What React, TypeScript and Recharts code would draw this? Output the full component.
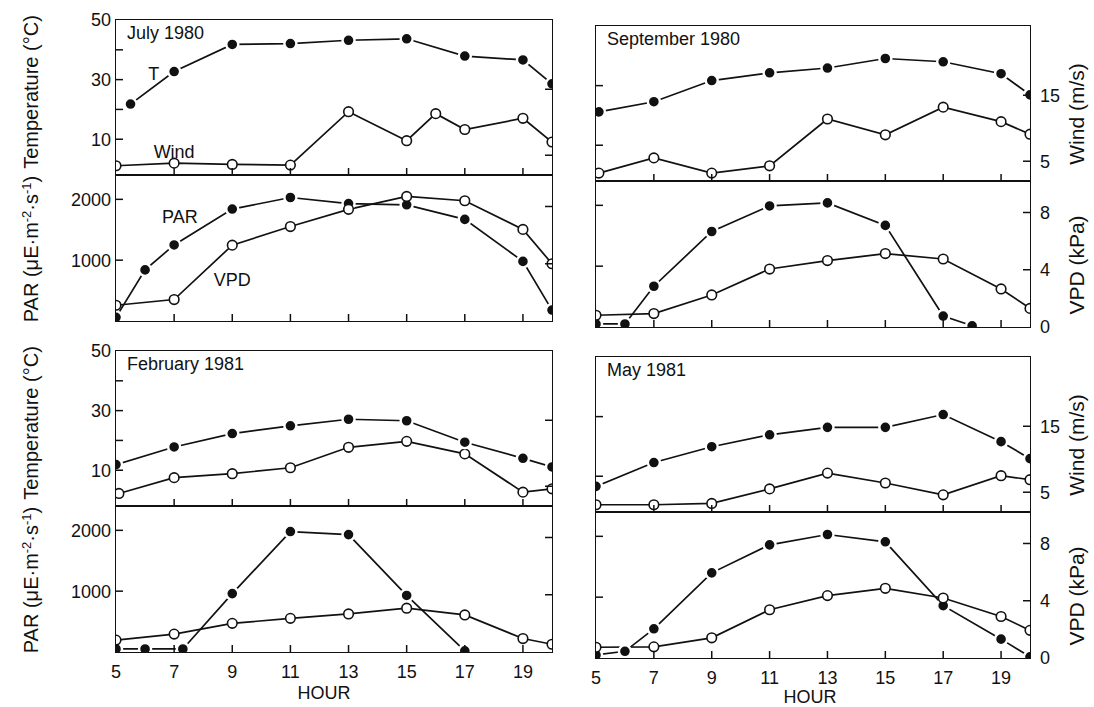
import React from 'react';
import { LineChart, Line, XAxis, YAxis, ReferenceDot } from 'recharts';

// ---------------- axis definitions ----------------
const HOUR_TICKS = [5, 7, 9, 11, 13, 15, 17, 19];
const HOUR_MARKS = [7, 9, 11, 13, 15, 17, 19];
const TEMP_TICKS = [10, 20, 30, 40, 50];
const TEMP_LABELS = [10, 30, 50];
const TEMP_MARKS_LEFT = [10, 20, 30, 40];
const TEMP_MARKS_RIGHT = [10, 30];
const WIND_TICKS = [5, 15];
const PAR_TICKS = [1000, 2000];
const VPD_TICKS = [0, 4, 8];
const VPD_MARKS = [4, 8];

const HOUR_DOMAIN = [5, 20];
const TEMP_DOMAIN = [-2, 50];
const WIND_DOMAIN = [2, 25.5];
const PAR_DOMAIN = [0, 2400];
const VPD_DOMAIN = [0, 10.2];

// ---------------- July 1980 ----------------
const JUL_T_H = [5.5, 7, 9, 11, 13, 15, 17, 19, 20];
const JUL_T = [21.8, 32.7, 41.8, 42.1, 43.2, 43.7, 37.9, 36.6, 28.6];
const JUL_W_H = [5, 7, 9, 11, 13, 15, 16, 17, 19, 20];
const JUL_W = [3.4, 3.8, 3.6, 3.5, 11.6, 7.2, 11.3, 8.9, 10.6, 7.0];
const JUL_PAR_H = [5, 6, 7, 9, 11, 13, 15, 17, 19, 20];
const JUL_PAR = [60, 840, 1250, 1840, 2030, 1930, 1910, 1670, 980, 180];
const JUL_VPD_H = [5, 7, 9, 11, 13, 15, 17, 19, 20];
const JUL_VPD = [1.1, 1.5, 5.3, 6.6, 7.8, 8.7, 8.4, 6.4, 4.0];

// ---------------- September 1980 ----------------
const SEP_T_H = [5.1, 7, 9, 11, 13, 15, 17, 19, 20];
const SEP_T = [21.2, 24.6, 31.7, 34.3, 35.9, 39.1, 38.0, 34.0, 26.9];
const SEP_W_H = [5.1, 7, 9, 11, 13, 15, 17, 19, 20];
const SEP_W = [3.2, 5.5, 3.2, 4.3, 11.4, 9.0, 13.2, 11.0, 9.1];
const SEP_PAR_H = [5, 6, 7, 9, 11, 13, 15, 17, 18];
const SEP_PAR = [50, 50, 670, 1570, 1990, 2040, 1670, 180, 20];
const SEP_VPD_H = [5, 7, 9, 11, 13, 15, 17, 19, 20];
const SEP_VPD = [0.82, 0.94, 2.24, 4.05, 4.64, 5.13, 4.75, 2.66, 1.3];

// ---------------- February 1981 ----------------
const FEB_T_H = [5, 7, 9, 11, 13, 15, 17, 19, 20];
const FEB_T = [11.9, 17.8, 22.3, 24.9, 27.1, 26.6, 19.4, 14.0, 11.1];
const FEB_W_H = [5.1, 7, 9, 11, 13, 15, 17, 19, 20];
const FEB_W = [3.9, 6.3, 6.9, 7.8, 10.9, 11.8, 9.9, 4.1, 4.6];
const FEB_PAR_H = [5, 6, 7.3, 9, 11, 13, 15, 17];
const FEB_PAR = [50, 50, 50, 960, 1980, 1930, 930, 20];
const FEB_VPD_H = [5, 7, 9, 11, 13, 15, 17, 19, 20];
const FEB_VPD = [0.83, 1.25, 2.0, 2.35, 2.66, 3.06, 2.59, 0.94, 0.54];

// ---------------- May 1981 ----------------
const MAY_T_H = [5, 7, 9, 11, 13, 15, 17, 19, 20];
const MAY_T = [6.6, 14.6, 19.9, 23.9, 26.4, 26.4, 30.7, 21.6, 15.9];
const MAY_W_H = [5, 7, 9, 11, 13, 15, 17, 19, 20];
const MAY_W = [3.1, 3.1, 3.3, 5.5, 7.9, 6.4, 4.6, 7.5, 6.9];
const MAY_PAR_H = [5, 6, 7, 9, 11, 13, 15, 17, 19, 20];
const MAY_PAR = [50, 110, 480, 1400, 1860, 2030, 1910, 860, 310, 20];
const MAY_VPD_H = [5, 7, 9, 11, 13, 15, 17, 19, 20];
const MAY_VPD = [0.75, 0.78, 1.41, 3.37, 4.36, 4.87, 4.19, 2.9, 1.93];

const TITLES = ['July 1980', 'September 1980', 'February 1981', 'May 1981'];

// ---------------- layout / style ----------------
const FONT = "'Liberation Sans', Arial, Helvetica, sans-serif";
const INK = '#111';
const COL_X = [116, 596];
const COL_W = [436, 434];
const ROW_Y = [20, 351];
const COL_DY = [0, 6];
const H_TOP = 155;
const H_BOT = 146;
const SIDE = 70;
const PAD = 12;
const MY_L = 5;
const MY_R = 10;
const MX = 10;
const TL = 7;
const FS = 18;
const LW = 1.7;

type Pt = { h: number; v: number };
const pts = (hs: number[], vs: number[]): Pt[] => hs.map((h, i) => ({ h, v: vs[i] }));

const FILLED_DOT = { r: 6, fill: INK, stroke: '#fff', strokeWidth: 2.4 };
const OPEN_DOT = { r: 4.8, fill: '#fff', stroke: INK, strokeWidth: 1.6 };

function makeLeftTick(marks: number[], labels: number[]) {
  return (p: any) => {
    const v = p.payload.value;
    const px = p.x + MY_L;
    return (
      <g>
        {marks.includes(v) && <line x1={px} x2={px + TL} y1={p.y} y2={p.y} stroke={INK} strokeWidth={1.5} />}
        {labels.includes(v) && (
          <text x={p.x} y={p.y} dy="0.36em" textAnchor="end" fontSize={FS} fontFamily={FONT} fill={INK}>
            {v}
          </text>
        )}
      </g>
    );
  };
}

function makeRightTick(marks: number[], labels: number[]) {
  return (p: any) => {
    const v = p.payload.value;
    const px = p.x - MY_R;
    return (
      <g>
        {marks.includes(v) && <line x1={px} x2={px - TL} y1={p.y} y2={p.y} stroke={INK} strokeWidth={1.5} />}
        {labels.includes(v) && (
          <text x={p.x} y={p.y} dy="0.36em" textAnchor="start" fontSize={FS} fontFamily={FONT} fill={INK}>
            {v}
          </text>
        )}
      </g>
    );
  };
}

function makeXTick(labels: number[]) {
  return (p: any) => {
    const v = p.payload.value;
    const py = p.y - MX;
    return (
      <g>
        {HOUR_MARKS.includes(v) && <line x1={p.x} x2={p.x} y1={py} y2={py - TL} stroke={INK} strokeWidth={1.5} />}
        {labels.includes(v) && (
          <text x={p.x} y={p.y} dy="0.9em" textAnchor="middle" fontSize={FS} fontFamily={FONT} fill={INK}>
            {v}
          </text>
        )}
      </g>
    );
  };
}

type PanelData = { T: Pt[]; W: Pt[]; PAR: Pt[]; VPD: Pt[] };

const PANELS: PanelData[] = [
  { T: pts(JUL_T_H, JUL_T), W: pts(JUL_W_H, JUL_W), PAR: pts(JUL_PAR_H, JUL_PAR), VPD: pts(JUL_VPD_H, JUL_VPD) },
  { T: pts(SEP_T_H, SEP_T), W: pts(SEP_W_H, SEP_W), PAR: pts(SEP_PAR_H, SEP_PAR), VPD: pts(SEP_VPD_H, SEP_VPD) },
  { T: pts(FEB_T_H, FEB_T), W: pts(FEB_W_H, FEB_W), PAR: pts(FEB_PAR_H, FEB_PAR), VPD: pts(FEB_VPD_H, FEB_VPD) },
  { T: pts(MAY_T_H, MAY_T), W: pts(MAY_W_H, MAY_W), PAR: pts(MAY_PAR_H, MAY_PAR), VPD: pts(MAY_VPD_H, MAY_VPD) },
];

const noteLabel = (value: string) => ({ value, position: 'center' as const, fill: INK, fontSize: 18, fontFamily: FONT });

function Panel({ idx }: { idx: number }) {
  const col = idx % 2;
  const row = Math.floor(idx / 2);
  const d = PANELS[idx];
  const x0 = COL_X[col];
  const w = COL_W[col];
  const y0 = ROW_Y[row] + COL_DY[col];
  const chartW = w + 2 * SIDE;
  const leftLab = col === 0;
  const rightLab = col === 1;
  const xLab = row === 1 ? HOUR_TICKS : [];
  const notes = idx === 0;
  return (
    <>
      <div
        style={{
          position: 'absolute',
          left: x0 - 0.8,
          top: y0 - 0.8,
          width: w + 1.6,
          height: H_TOP + H_BOT + 1.6,
          border: `1.6px solid ${INK}`,
          boxSizing: 'border-box',
        }}
      />
      <div style={{ position: 'absolute', left: x0, top: y0 + H_TOP - 0.8, width: w, height: 1.6, background: INK }} />
      <div
        style={{
          position: 'absolute',
          left: x0 + 11,
          top: y0 + 2,
          fontFamily: FONT,
          fontSize: 18,
          color: INK,
          whiteSpace: 'pre',
          lineHeight: '22px',
        }}
      >
        {TITLES[idx]}
      </div>
      {/* upper: temperature & wind */}
      <div style={{ position: 'absolute', left: x0 - SIDE, top: y0 - PAD }}>
        <LineChart width={chartW} height={PAD + H_TOP + 24} margin={{ top: PAD, right: 0, bottom: 0, left: 0 }}>
          <XAxis
            type="number"
            dataKey="h"
            domain={HOUR_DOMAIN}
            ticks={HOUR_TICKS}
            interval={0}
            height={24}
            axisLine={false}
            tickSize={0}
            tickMargin={MX}
            tick={makeXTick([])}
            allowDataOverflow
          />
          <YAxis
            yAxisId="t"
            orientation="left"
            type="number"
            domain={TEMP_DOMAIN}
            ticks={TEMP_TICKS}
            interval={0}
            width={SIDE}
            axisLine={false}
            tickSize={0}
            tickMargin={MY_L}
            tick={makeLeftTick(col === 0 ? TEMP_MARKS_LEFT : TEMP_MARKS_RIGHT, leftLab ? TEMP_LABELS : [])}
            allowDataOverflow
          />
          <YAxis
            yAxisId="w"
            orientation="right"
            type="number"
            domain={WIND_DOMAIN}
            ticks={WIND_TICKS}
            interval={0}
            width={SIDE}
            axisLine={false}
            tickSize={0}
            tickMargin={MY_R}
            tick={makeRightTick(WIND_TICKS, rightLab ? WIND_TICKS : [])}
            allowDataOverflow
          />
          <Line
            yAxisId="w"
            data={d.W}
            dataKey="v"
            type="linear"
            stroke={INK}
            strokeWidth={LW}
            dot={OPEN_DOT}
            activeDot={false}
            isAnimationActive={false}
          />
          <Line
            yAxisId="t"
            data={d.T}
            dataKey="v"
            type="linear"
            stroke={INK}
            strokeWidth={LW}
            dot={FILLED_DOT}
            activeDot={false}
            isAnimationActive={false}
          />
          {notes && <ReferenceDot yAxisId="t" x={6.3} y={32} r={1} fill="none" stroke="none" label={noteLabel('T')} />}
          {notes && <ReferenceDot yAxisId="t" x={7.0} y={6} r={1} fill="none" stroke="none" label={noteLabel('Wind')} />}
        </LineChart>
      </div>
      {/* lower: PAR & VPD */}
      <div style={{ position: 'absolute', left: x0 - SIDE, top: y0 + H_TOP - PAD }}>
        <LineChart width={chartW} height={PAD + H_BOT + 40} margin={{ top: PAD, right: 0, bottom: 0, left: 0 }}>
          <XAxis
            type="number"
            dataKey="h"
            domain={HOUR_DOMAIN}
            ticks={HOUR_TICKS}
            interval={0}
            height={40}
            axisLine={false}
            tickSize={0}
            tickMargin={MX}
            tick={makeXTick(xLab)}
            allowDataOverflow
          />
          <YAxis
            yAxisId="par"
            orientation="left"
            type="number"
            domain={PAR_DOMAIN}
            ticks={PAR_TICKS}
            interval={0}
            width={SIDE}
            axisLine={false}
            tickSize={0}
            tickMargin={MY_L}
            tick={makeLeftTick(PAR_TICKS, leftLab ? PAR_TICKS : [])}
            allowDataOverflow
          />
          <YAxis
            yAxisId="vpd"
            orientation="right"
            type="number"
            domain={VPD_DOMAIN}
            ticks={VPD_TICKS}
            interval={0}
            width={SIDE}
            axisLine={false}
            tickSize={0}
            tickMargin={MY_R}
            tick={makeRightTick(VPD_MARKS, rightLab ? VPD_TICKS : [])}
            allowDataOverflow
          />
          <Line
            yAxisId="par"
            data={d.PAR}
            dataKey="v"
            type="linear"
            stroke={INK}
            strokeWidth={LW}
            dot={FILLED_DOT}
            activeDot={false}
            isAnimationActive={false}
          />
          <Line
            yAxisId="vpd"
            data={d.VPD}
            dataKey="v"
            type="linear"
            stroke={INK}
            strokeWidth={LW}
            dot={OPEN_DOT}
            activeDot={false}
            isAnimationActive={false}
          />
          {notes && <ReferenceDot yAxisId="par" x={7.2} y={1720} r={1} fill="none" stroke="none" label={noteLabel('PAR')} />}
          {notes && <ReferenceDot yAxisId="par" x={9.0} y={680} r={1} fill="none" stroke="none" label={noteLabel('VPD')} />}
        </LineChart>
      </div>
    </>
  );
}

function AxisTitles() {
  const rows = [0, 1];
  return (
    <svg width={1094} height={707} style={{ position: 'absolute', left: 0, top: 0, pointerEvents: 'none' }}>
      <g fontFamily={FONT} fill={INK}>
        {rows.map((r) => {
          const y0 = ROW_Y[r];
          const yr = ROW_Y[r] + COL_DY[1];
          const tempY = y0 + 72;
          const parY = y0 + H_TOP + 74;
          const windY = yr + 88;
          const vpdY = yr + H_TOP + 84;
          return (
            <g key={r}>
              <text x={38} y={tempY} fontSize={20} textAnchor="middle" transform={`rotate(-90 38 ${tempY})`}>
                {r === 0 ? 'Temperature (°C)' : 'Temperature (°C)'}
              </text>
              <text x={38} y={parY} fontSize={20} textAnchor="middle" transform={`rotate(-90 38 ${parY})`}>
                PAR (μE·m
                <tspan dy={-7} fontSize={13}>-2</tspan>
                <tspan dy={7}>·s</tspan>
                <tspan dy={-7} fontSize={13}>-1</tspan>
                <tspan dy={7}>)</tspan>
              </text>
              <text x={1084} y={windY} fontSize={21} textAnchor="middle" transform={`rotate(-90 1084 ${windY})`}>
                Wind (m/s)
              </text>
              <text x={1084} y={vpdY} fontSize={21} textAnchor="middle" transform={`rotate(-90 1084 ${vpdY})`}>
                VPD (kPa)
              </text>
            </g>
          );
        })}
        <text x={324} y={699} fontSize={18} textAnchor="middle">HOUR</text>
        <text x={810} y={703} fontSize={18} textAnchor="middle">HOUR</text>
      </g>
    </svg>
  );
}

export default function App() {
  return (
    <div
      style={{
        position: 'absolute',
        left: 0,
        top: 0,
        width: 1094,
        height: 707,
        background: '#fff',
        overflow: 'hidden',
        fontFamily: FONT,
      }}
    >
      {[0, 1, 2, 3].map((i) => (
        <Panel key={i} idx={i} />
      ))}
      <AxisTitles />
    </div>
  );
}
